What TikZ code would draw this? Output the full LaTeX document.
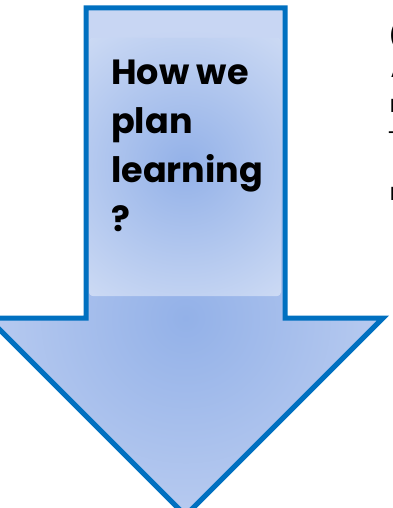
\documentclass[tikz,border=0pt]{standalone}
\usepackage{fontspec}
\newfontfamily\gothicfont{Poppins}
\usetikzlibrary{positioning, calc}
\definecolor{arrowline}{RGB}{0,112,192}
\definecolor{arrowdeep}{RGB}{147,177,232}
\definecolor{arrowpale}{RGB}{200,214,243}
\definecolor{panelpale}{RGB}{214,225,246}
\tikzset{
    arrowshape/.style={draw=arrowline, line width=5pt, miter limit=10},
    panelbox/.style={rounded corners=4pt},
    titletext/.style={
        anchor=north west, align=left, inner sep=0pt,
        font=\gothicfont\bfseries\fontsize{35}{49}\selectfont
    },
    cuttext/.style={anchor=base west, inner sep=0pt, font=\gothicfont\fontsize{24}{30}\selectfont}
}

\begin{document}
\begin{tikzpicture}[x=1pt, y=-1pt]
    % Page frame
    \useasboundingbox (0,0) rectangle (392,508);

    % Arrow outline points
    \coordinate (shaftTL) at (86,8);
    \coordinate (shaftTR) at (285,8);
    \coordinate (shaftBR) at (285,318);
    \coordinate (headR) at (383,318);
    \coordinate (tip) at (185.5,515.5);
    \coordinate (headL) at (-12,318);
    \coordinate (shaftBL) at (86,318);

    % Arrow fill
    \begin{scope}
        \clip (shaftTL) -- (shaftTR) -- (shaftBR) -- (headR) -- (tip) -- (headL) -- (shaftBL) -- cycle;
        \fill[arrowpale] (-20,0) rectangle (400,520);
        \shade[inner color=arrowdeep, outer color=arrowpale] (185.5,318) circle (290);
    \end{scope}

    % Inner panel
    \begin{scope}
        \clip[panelbox] (89,38) rectangle (281,296);
        \fill[panelpale] (89,38) rectangle (281,296);
        \shade[inner color=arrowdeep, outer color=panelpale] (185,165) circle (190);
    \end{scope}

    % Arrow border
    \draw[arrowshape] (shaftTL) -- (shaftTR) -- (shaftBR) -- (headR) -- (tip) -- (headL) -- (shaftBL) -- cycle;

    % Title
    \node[titletext] (title) at (111,59.5) {How we\\plan\\learning\\?};

    % Text cut off at the right edge
    \node[cuttext] (cutA) at (388.5,45) {(};
    \node[cuttext] (cutB) at (390.5,78) {A};
    \node[cuttext] (cutC) at (389.5,113) {r};
    \node[cuttext] (cutD) at (388,148) {T};
    \node[cuttext] (cutE) at (389.5,200) {r};
\end{tikzpicture}
\end{document}
